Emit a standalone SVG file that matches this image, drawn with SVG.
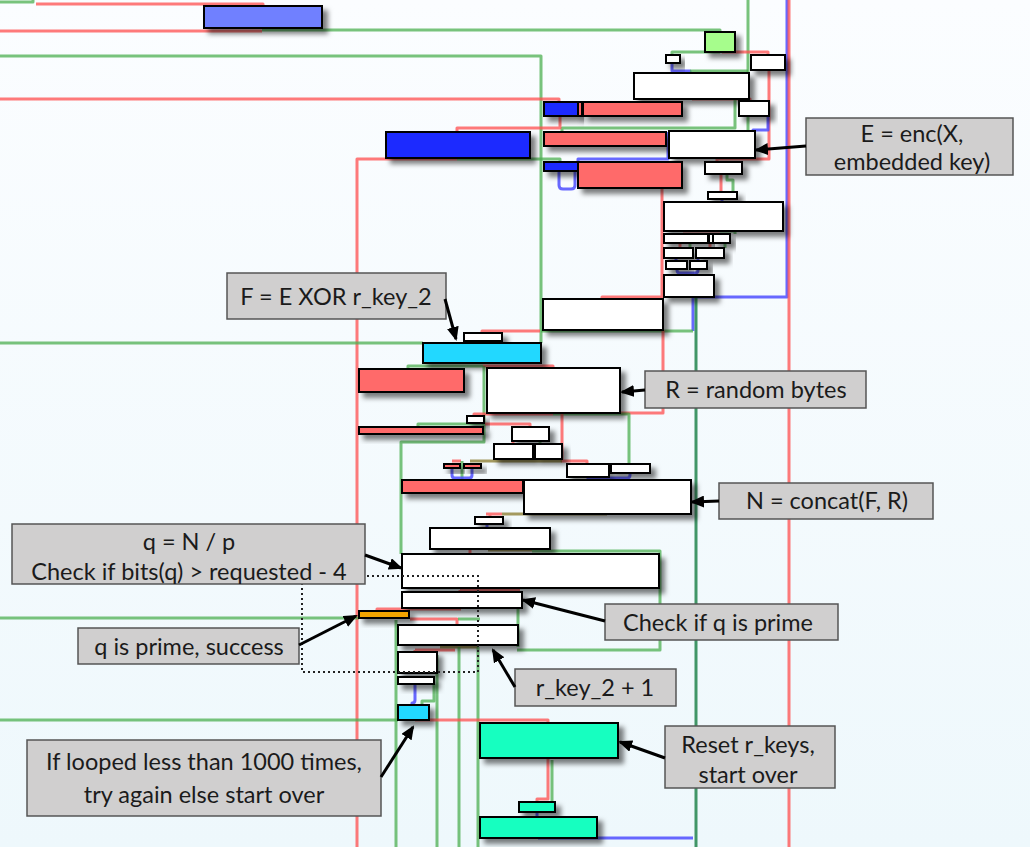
<svg xmlns="http://www.w3.org/2000/svg" width="1030" height="847" viewBox="0 0 1030 847">
<defs>
<linearGradient id="bg" x1="0" y1="0" x2="0" y2="1">
<stop offset="0" stop-color="#fbfdff"/>
<stop offset="1" stop-color="#eef8fc"/>
</linearGradient>
<filter id="sh" x="-20%" y="-60%" width="150%" height="300%">
<feDropShadow dx="5" dy="5" stdDeviation="2.5" flood-color="#000" flood-opacity="0.5"/>
</filter>
<marker id="ah" viewBox="0 0 14 12" markerWidth="14" markerHeight="12" refX="12" refY="6" orient="auto" markerUnits="userSpaceOnUse">
<path d="M0,0 L14,6 L0,12 z" fill="#000"/>
</marker>
<style>
.e{fill:none;stroke-width:3;stroke-linejoin:round;stroke-linecap:butt}
.r{stroke:#ff4d4d;stroke-opacity:.75}
.g{stroke:#4caf50;stroke-opacity:.75}
.b{stroke:#4d4dff;stroke-opacity:.85}
.dg{stroke:#2e8b57;stroke-opacity:.9}
.o{stroke:#8a7a2a;stroke-opacity:.75}
.n{stroke:#000;stroke-width:2;filter:url(#sh)}
.w{fill:#ffffff}.rd{fill:#ff6b6b}.bl{fill:#1a2bff}.pw{fill:#6f80ff}.lg{fill:#a6fd8c}.cy{fill:#22d8ff}.or{fill:#f2a400}.tl{fill:#14ffc0}
.lbl rect{fill:#d0cfcf;stroke:#555;stroke-width:1.5}
.lbl text{font-family:Lato,"Open Sans","Liberation Sans",sans-serif;font-size:23.5px;fill:#1b1b1b;text-anchor:middle}
.dot{fill:none;stroke:#222;stroke-width:2;stroke-dasharray:2 3}
.arr{fill:none;stroke:#000;stroke-width:3;marker-end:url(#ah)}
</style>
</defs>
<rect width="1030" height="847" fill="url(#bg)"/>

<g id="connectors">
<path class="e g" d="M0,2 H33 V0"/>
<path class="e r" d="M36,4 H263 V6"/>
<path class="e r" d="M0,31 H262"/>
<path class="e g" d="M262,30 H720 V32"/>
<path class="e g" d="M0,56 H541 V343"/>
<path class="e g" d="M748,0 V73"/>
<path class="e b" d="M787,0 V297 H693 V331"/>
<path class="e r" d="M789,0 V847"/>
<path class="e r" d="M722,52 H768 V55"/>
<path class="e g" d="M720,52 H672 V55"/>
<path class="e b" d="M672,63 V71 H690 V73"/>
<path class="e g" d="M748,71 H690"/>
<path class="e r" d="M769,70 V159 H717 V162"/>
<path class="e r" d="M0,99 H559 V102"/>
<path class="e r" d="M692,99 H750 V101"/>
<path class="e g" d="M735,99 V128 H562 V132"/>
<path class="e g" d="M748,116 V131"/>
<path class="e b" d="M768,116 V130 H753 V131"/>
<path class="e r" d="M560,116 V128 H457 V132"/>
<path class="e r" d="M457,159 H357 V847"/>
<path class="e g" d="M457,159 H560 V162"/>
<path class="e b" d="M668,132 V159 H578 V162"/>
<path class="e b" d="M559,171 V185 Q559,189 563,189 H571 Q575,189 575,185 V171"/>
<path class="e r" d="M662,188 V297 H602 V299"/>
<path class="e r" d="M721,174 V192"/>
<path class="e g" d="M727,174 V180 H733 V192"/>
<path class="e b" d="M722,199 V202"/>
<path class="e r" d="M683,231 H720"/>
<path class="e g" d="M720,231 H735 V234"/>
<path class="e r" d="M680,243 V248"/>
<path class="e g" d="M690,243 V248"/>
<path class="e r" d="M710,243 V248"/>
<path class="e g" d="M725,243 V248"/>
<path class="e b" d="M676,258 V261"/>
<path class="e b" d="M698,258 V261"/>
<path class="e b" d="M677,269 V270 Q677,273 680,273 H695 Q698,273 698,270 V269 M688,273 V275"/>
<path class="e dg" d="M696,297 V847"/>
<path class="e g" d="M541,331 H693"/>
<path class="e r" d="M540,331 H482 V333"/>
<path class="e r" d="M663,330 V413 H620"/>
<path class="e g" d="M0,343 H423"/>
<path class="e b" d="M483,341 V343"/>
<path class="e g" d="M483,366 H408 V369"/>
<path class="e r" d="M483,366 H553 V368"/>
<path class="e g" d="M484,366 V442 H401 V554"/>
<path class="e r" d="M553,414 H474 V416"/>
<path class="e g" d="M553,414 H629 V464"/>
<path class="e r" d="M562,414 V461 H587 V464"/>
<path class="e g" d="M418,427 V424 H484"/>
<path class="e r" d="M485,424 H530 V427"/>
<path class="e r" d="M513,441 V444"/>
<path class="e g" d="M540,441 V444"/>
<path class="e r" d="M452,461 H461"/>
<path class="e o" d="M470,461 H562"/>
<path class="e g" d="M462,461 V480"/>
<path class="e b" d="M452,468 V475 Q452,478 455,478 H469 Q472,478 472,475 V468 M462,478 V480"/>
<path class="e b" d="M630,473 V475 Q630,478 627,478 H588 V480"/>
<path class="e o" d="M502,514 H607"/>
<path class="e r" d="M486,514 H502 M490,514 V517"/>
<path class="e b" d="M487,524 V528"/>
<path class="e o" d="M488,550 H532"/>
<path class="e r" d="M470,550 V554"/>
<path class="e g" d="M532,551 H660 V650 H517"/>
<path class="e r" d="M460,590 H520 M460,590 V592"/>
<path class="e r" d="M461,609 H377 V611"/>
<path class="e g" d="M518,608 V647"/>
<path class="e r" d="M410,619 H457 V625"/>
<path class="e g" d="M458,619 H480"/>
<path class="e g" d="M0,618 H359"/>
<path class="e r" d="M415,650 H455 M415,650 V652"/>
<path class="e o" d="M440,647 H478"/>
<path class="e g" d="M459,647 V847"/>
<path class="e g" d="M478,647 V847"/>
<path class="e g" d="M437,655 V847"/>
<path class="e g" d="M396,620 V847"/>
<path class="e b" d="M415,684 V700 Q415,703 412,703 V705"/>
<path class="e g" d="M434,684 V701 H422 V705"/>
<path class="e g" d="M0,720 H398"/>
<path class="e r" d="M415,720 H548 V723"/>
<path class="e r" d="M548,758 V799 H537 V802"/>
<path class="e g" d="M552,760 V802"/>
<path class="e b" d="M537,812 V817"/>
<path class="e b" d="M538,838 H693"/>
</g>

<g id="nodes">
<g id="n1"><rect class="n pw" x="204" y="6" width="118" height="22"/></g>
<g id="n2"><rect class="n lg" x="705" y="32" width="30" height="20"/></g>
<g id="n3"><rect class="n w" x="666" y="55" width="14" height="8"/></g>
<g id="n4"><rect class="n w" x="751" y="55" width="34" height="15"/></g>
<g id="n5"><rect class="n w" x="634" y="73" width="115" height="26"/></g>
<g id="n6"><rect class="n bl" x="544" y="102" width="34" height="14"/></g>
<g id="n7"><rect class="n rd" x="578" y="102" width="4" height="14"/></g>
<g id="n8"><rect class="n rd" x="583" y="102" width="99" height="14"/></g>
<g id="n9"><rect class="n w" x="739" y="101" width="30" height="15"/></g>
<g id="n10"><rect class="n bl" x="386" y="132" width="144" height="26"/></g>
<g id="n11"><rect class="n rd" x="544" y="132" width="122" height="14"/></g>
<g id="n12"><rect class="n w" x="669" y="131" width="86" height="27"/></g>
<g id="n13"><rect class="n bl" x="544" y="162" width="34" height="9"/></g>
<g id="n14"><rect class="n rd" x="578" y="162" width="104" height="26"/></g>
<g id="n15"><rect class="n w" x="705" y="162" width="37" height="12"/></g>
<g id="n16"><rect class="n w" x="708" y="192" width="29" height="7"/></g>
<g id="n17"><rect class="n w" x="664" y="202" width="119" height="29"/></g>
<g id="n18"><rect class="n w" x="664" y="234" width="44" height="9"/></g>
<g id="n19"><rect class="n w" x="709" y="234" width="4" height="9"/></g>
<g id="n20"><rect class="n w" x="713" y="234" width="17" height="9"/></g>
<g id="n21"><rect class="n w" x="664" y="248" width="29" height="10"/></g>
<g id="n22"><rect class="n w" x="696" y="248" width="28" height="10"/></g>
<g id="n23"><rect class="n w" x="666" y="261" width="21" height="8"/></g>
<g id="n24"><rect class="n w" x="690" y="261" width="17" height="8"/></g>
<g id="n25"><rect class="n w" x="664" y="275" width="50" height="22"/></g>
<g id="n26"><rect class="n w" x="543" y="299" width="120" height="31"/></g>
<g id="n27"><rect class="n w" x="464" y="333" width="38" height="8"/></g>
<g id="n28"><rect class="n cy" x="423" y="343" width="118" height="20"/></g>
<g id="n29"><rect class="n rd" x="359" y="369" width="105" height="23"/></g>
<g id="n30"><rect class="n w" x="487" y="368" width="133" height="45"/></g>
<g id="n31"><rect class="n w" x="467" y="416" width="17" height="7"/></g>
<g id="n32"><rect class="n rd" x="359" y="427" width="124" height="7"/></g>
<g id="n33"><rect class="n w" x="512" y="427" width="37" height="14"/></g>
<g id="n34"><rect class="n w" x="494" y="444" width="39" height="15"/></g>
<g id="n35"><rect class="n w" x="535" y="444" width="27" height="15"/></g>
<g id="n36"><rect class="n rd" x="444" y="464" width="16" height="4"/></g>
<g id="n37"><rect class="n rd" x="464" y="464" width="17" height="4"/></g>
<g id="n38"><rect class="n w" x="567" y="464" width="42" height="13"/></g>
<g id="n39"><rect class="n w" x="611" y="464" width="39" height="9"/></g>
<g id="n40"><rect class="n rd" x="402" y="480" width="121" height="13"/></g>
<g id="n41"><rect class="n w" x="524" y="480" width="167" height="34"/></g>
<g id="n42"><rect class="n w" x="475" y="517" width="28" height="7"/></g>
<g id="n43"><rect class="n w" x="430" y="528" width="120" height="21"/></g>
<g id="n44"><rect class="n w" x="402" y="554" width="257" height="34"/></g>
<g id="n45"><rect class="n w" x="402" y="592" width="120" height="16"/></g>
<g id="n46"><rect class="n or" x="359" y="611" width="50" height="7"/></g>
<g id="n47"><rect class="n w" x="398" y="625" width="120" height="20"/></g>
<g id="n48"><rect class="n w" x="398" y="652" width="39" height="21"/></g>
<g id="n49"><rect class="n w" x="398" y="677" width="36" height="7"/></g>
<g id="n50"><rect class="n cy" x="398" y="705" width="31" height="15"/></g>
<g id="n51"><rect class="n tl" x="480" y="723" width="138" height="35"/></g>
<g id="n52"><rect class="n tl" x="519" y="802" width="36" height="10"/></g>
<g id="n53"><rect class="n tl" x="480" y="817" width="117" height="21"/></g>
</g>

<g id="dotted-region"><rect class="dot" x="302" y="576" width="176" height="96"/></g>

<g id="labels">
<g id="lbl-e" class="lbl"><rect x="806" y="118" width="207" height="57"/><text x="912" y="142">E = enc(X,</text><text x="912" y="170">embedded key)</text></g>
<g id="lbl-f" class="lbl"><rect x="227" y="273" width="219" height="46"/><text x="336" y="305">F = E XOR r_key_2</text></g>
<g id="lbl-r" class="lbl"><rect x="645" y="371" width="221" height="37"/><text x="756" y="398">R = random bytes</text></g>
<g id="lbl-n" class="lbl"><rect x="719" y="483" width="214" height="36"/><text x="827" y="509">N = concat(F, R)</text></g>
<g id="lbl-q" class="lbl"><rect x="12" y="524" width="353" height="60"/><text x="189" y="550">q = N / p</text><text x="189" y="580">Check if bits(q) &gt; requested - 4</text></g>
<g id="lbl-cp" class="lbl"><rect x="605" y="604" width="233" height="36"/><text x="718" y="631">Check if q is prime</text></g>
<g id="lbl-s" class="lbl"><rect x="78" y="628" width="221" height="36"/><text x="189" y="655">q is prime, success</text></g>
<g id="lbl-k" class="lbl"><rect x="515" y="669" width="161" height="37"/><text x="595" y="696">r_key_2 + 1</text></g>
<g id="lbl-reset" class="lbl"><rect x="665" y="726" width="170" height="62"/><text x="748" y="753">Reset r_keys,</text><text x="748" y="783">start over</text></g>
<g id="lbl-loop" class="lbl"><rect x="27" y="740" width="354" height="76"/><text x="204" y="770">If looped less than 1000 times,</text><text x="204" y="803">try again else start over</text></g>
</g>

<g id="callout-arrows">
<path class="arr" d="M806,146 L756,150"/>
<path class="arr" d="M445,299 L456,339"/>
<path class="arr" d="M645,390 L622,392"/>
<path class="arr" d="M719,501 L692,502"/>
<path class="arr" d="M365,555 L401,568"/>
<path class="arr" d="M299,645 L356,616"/>
<path class="arr" d="M605,621 L523,600"/>
<path class="arr" d="M515,687 L493,650"/>
<path class="arr" d="M665,758 L620,742"/>
<path class="arr" d="M381,777 L413,727"/>
</g>
</svg>
